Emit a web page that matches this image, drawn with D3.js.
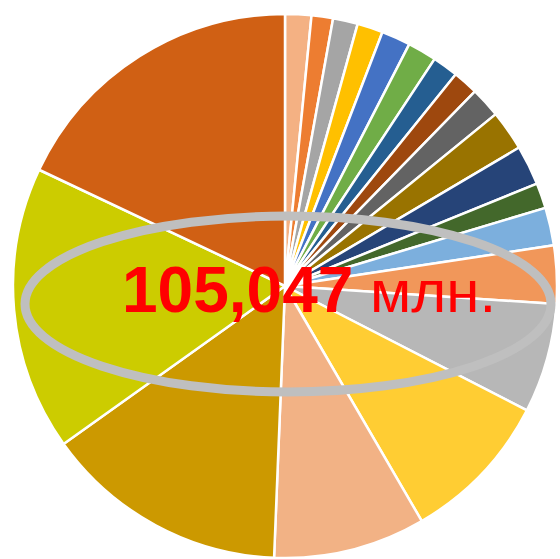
<!DOCTYPE html>
<html lang="ru">
<head>
<meta http-equiv="Content-Type" content="text/html; charset=utf-8" />
<title>105,047 млн.</title>
<style>
   body { margin:0px; padding:0px; background:white; }
   svg { display:block; }
   .total { font-family:"Liberation Sans", Arial, sans-serif; fill:red; }
</style>
<script src="https://d3js.org/d3.v7.min.js"></script>
</head>
<body>
<svg id="main" width="560" height="559"></svg>
<script>
// slice values (млн.), clockwise from 12 o'clock
var values = [1634,1342,1547,1605,1809,1809,1605,1576,1897,2509,2480,1576,2364,3618,6828,9513,9484,15232,17741,18879];
var colors = ['#F4B183','#ED7D31','#A5A5A5','#FFC000','#4472C4','#70AD47','#255E91','#9E480E','#636363','#997300',
              '#264478','#43682B','#7CAFDD','#F1975A','#B7B7B7','#FFCD33','#F2B285','#CC9900','#CCCC00','#D06014'];
var totalLabel = '105,047';
var unitLabel = ' млн.';

var svg = d3.select('#main');
var cx = 285, cy = 286, r = 272;

var pie = d3.pie().sort(null).value(function(d) { return d; });
var arc = d3.arc().innerRadius(0).outerRadius(r);

var g = svg.append('g').attr('transform','translate('+cx+','+cy+')');
g.selectAll('path')
   .data(pie(values))
   .enter()
   .append('path')
   .attr('d', arc)
   .style('fill', function(d,i) { return colors[i]; })
   .style('stroke','white')
   .style('stroke-width',2.5)
   .style('stroke-linejoin','round');

// gray ring around the total
svg.append('ellipse')
   .attr('cx',288).attr('cy',304)
   .attr('rx',263).attr('ry',88)
   .style('fill','none')
   .style('stroke','#BFBFBF')
   .style('stroke-width',9);

var t = svg.append('text').attr('class','total').attr('x',122).attr('y',312);
t.append('tspan').style('font-weight','bold').style('font-size','64px').text(totalLabel);
t.append('tspan').style('font-size','60px').text(unitLabel);
</script>
</body>
</html>
